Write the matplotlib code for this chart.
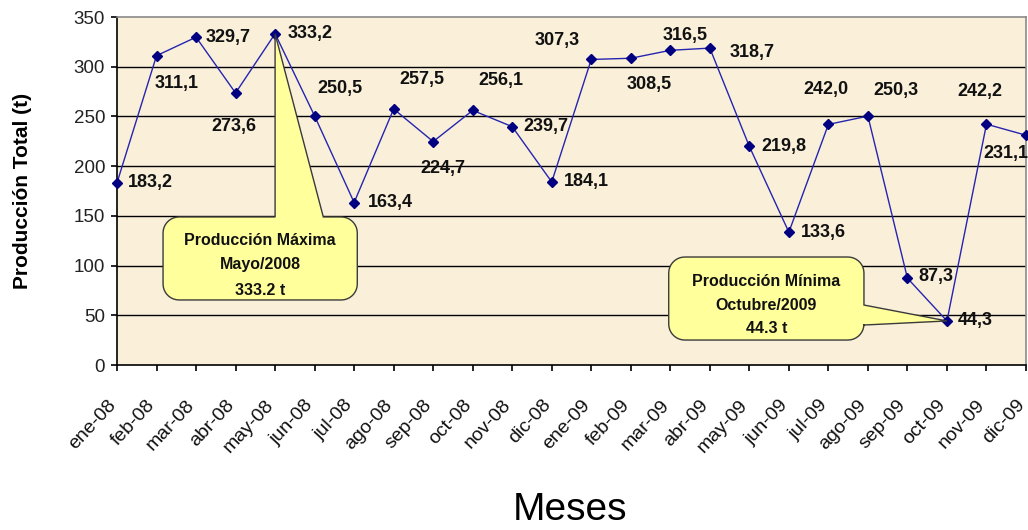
import numpy as np
import matplotlib
matplotlib.use("Agg")
import matplotlib.pyplot as plt
from matplotlib import font_manager
from matplotlib.path import Path
from matplotlib.patches import PathPatch
from matplotlib.transforms import ScaledTranslation

# ---- data -------------------------------------------------------------
months = ["ene-08", "feb-08", "mar-08", "abr-08", "may-08", "jun-08",
          "jul-08", "ago-08", "sep-08", "oct-08", "nov-08", "dic-08",
          "ene-09", "feb-09", "mar-09", "abr-09", "may-09", "jun-09",
          "jul-09", "ago-09", "sep-09", "oct-09", "nov-09", "dic-09"]
production = [183.2, 311.1, 329.7, 273.6, 333.2, 250.5, 163.4, 257.5,
              224.7, 256.1, 239.7, 184.1, 307.3, 308.5, 316.5, 318.7,
              219.8, 133.6, 242.0, 250.3, 87.3, 44.3, 242.2, 231.1]
y_ticks = [0, 50, 100, 150, 200, 250, 300, 350]

# label placement (pixel offsets from each point, horizontal alignment)
label_pos = [(11, 0, "left"), (20, -28, "center"), (10, 0, "left"),
             (-2, -34, "center"), (13, 0, "left"), (25, 27, "center"),
             (14, 0, "left"), (28, 29, "center"), (10, -27, "center"),
             (28, 30, "center"), (11, 0, "left"), (12, 0, "left"),
             (-34, 19, "center"), (18, -26, "center"), (15, 15, "center"),
             (20, -4, "left"), (12, 0, "left"), (12, 0, "left"),
             (-2, 35, "center"), (28, 26, "center"), (11, 2, "left"),
             (11, 0, "left"), (-7, 33, "center"), (-20, -18, "center")]

# ---- fonts ------------------------------------------------------------
def has_font(name):
    try:
        font_manager.findfont(font_manager.FontProperties(family=name),
                              fallback_to_default=False)
        return True
    except Exception:
        return False

base = "Liberation Sans" if has_font("Liberation Sans") else "DejaVu Sans"
narrow = "Liberation Sans Narrow" if has_font("Liberation Sans Narrow") else base
plt.rcParams["font.family"] = [base, "DejaVu Sans"]

# ---- figure -----------------------------------------------------------
W, H = 1028, 530
fig = plt.figure(figsize=(W / 100, H / 100), dpi=100)
fig.patch.set_facecolor("white")
ax = fig.add_axes([117 / W, 1 - 365 / H, (1026 - 117) / W, (365 - 17) / H])
ax.set_facecolor("#FAF0DA")

x = np.arange(len(months))
ax.set_xlim(0, len(months) - 1)
ax.set_ylim(0, 350)

for g in y_ticks[1:-1]:
    ax.axhline(g, color="black", lw=1.0, zorder=1)

ax.plot(x, production, color="#2525B0", lw=1.0, zorder=3, clip_on=False)
ax.plot(x, production, ls="none", marker="D", ms=5.5, color="#000080",
        zorder=4, clip_on=False)

# spines
for s in ("top", "right"):
    ax.spines[s].set_color("#8A8A8A")
    ax.spines[s].set_linewidth(1.2)
for s in ("left", "bottom"):
    ax.spines[s].set_color("black")
    ax.spines[s].set_linewidth(1.2)

ax.set_yticks(y_ticks)
ax.set_yticklabels([str(v) for v in y_ticks], fontsize=13.5, color="#222222")
ax.tick_params(axis="y", direction="out", length=4.5, width=1.2, pad=4)
ax.set_xticks(x)
ax.set_xticklabels(months, rotation=47, ha="right", va="center",
                   rotation_mode="anchor", fontsize=14, color="#111111")
ax.tick_params(axis="x", direction="out", length=4.5, width=1.2, pad=0)
off = ScaledTranslation(-4 / 100, -31 / 100, fig.dpi_scale_trans)
for lab in ax.get_xticklabels():
    lab.set_transform(lab.get_transform() + off)

ax.set_ylabel("Producción Total (t)", fontsize=15, fontweight="bold",
              labelpad=0)
ax.yaxis.set_label_coords(-0.0935, 0.5)
fig.text(570 / W, 1 - 510 / H, "Meses", fontsize=28, ha="center",
         va="center", family=[narrow, base])

# data labels
for xi, v, (dx, dy, ha) in zip(x, production, label_pos):
    ax.annotate(f"{v:.1f}".replace(".", ","), xy=(xi, v),
                xytext=(dx, dy), textcoords="offset pixels",
                ha=ha, va="center", fontsize=13, fontweight="bold",
                color="#111111", zorder=6, annotation_clip=False)

# ---- callouts ---------------------------------------------------------
px_x = (1026 - 117) / (len(months) - 1)   # pixels per category
px_y = (365 - 17) / 350.0                 # pixels per unit


def rounded_box(x0, x1, y0, y1, r=16, pointer=None):
    """Rounded rectangle in data coords with optional pointer.
    pointer: (edge, a, b, tip) where edge is 'top' or 'right'."""
    rx, ry = r / px_x, r / px_y
    t = np.linspace(0, np.pi / 2, 10)
    pts = []
    # bottom-right corner
    cx, cy = x1 - rx, y0 + ry
    pts += [(cx + rx * np.sin(a), cy - ry * np.cos(a)) for a in t]
    if pointer and pointer[0] == "right":
        _, a, b, tip = pointer
        pts += [(x1, a), tip, (x1, b)]
    # top-right corner
    cx, cy = x1 - rx, y1 - ry
    pts += [(cx + rx * np.cos(a), cy + ry * np.sin(a)) for a in t]
    if pointer and pointer[0] == "top":
        _, a, b, tip = pointer
        pts += [(b, y1), tip, (a, y1)]
    # top-left corner
    cx, cy = x0 + rx, y1 - ry
    pts += [(cx - rx * np.sin(a), cy + ry * np.cos(a)) for a in t]
    # bottom-left corner
    cx, cy = x0 + rx, y0 + ry
    pts += [(cx - rx * np.cos(a), cy - ry * np.sin(a)) for a in t]
    pts.append(pts[0])
    codes = [Path.MOVETO] + [Path.LINETO] * (len(pts) - 2) + [Path.CLOSEPOLY]
    return Path(pts, codes)


i_max = int(np.argmax(production))
i_min = int(np.argmin(production))

box_max = rounded_box(1.165, 6.08, 65.4, 148.9,
                      pointer=("top", 4.0, 5.22, (i_max, production[i_max])))
box_min = rounded_box(13.96, 18.9, 25.1, 108.6,
                      pointer=("right", 40.2, 60.3, (i_min, production[i_min])))
for p in (box_max, box_min):
    ax.add_patch(PathPatch(p, facecolor="#FFFF9C", edgecolor="#3A3A3A",
                           lw=1.0, zorder=5, clip_on=False))

cfont = dict(ha="center", va="center", fontsize=11.5, fontweight="bold",
             color="#111111", zorder=7, family=[narrow, base])
ax.text(3.62, 125.7, "Producción Máxima", **cfont)
ax.text(3.62, 100.6, "Mayo/2008", **cfont)
ax.text(3.62, 75.4, f"{production[i_max]:.1f} t", **cfont)
ax.text(16.43, 83.5, "Producción Mínima", **cfont)
ax.text(16.43, 60.3, "Octubre/2009", **cfont)
ax.text(16.43, 37.2, f"{production[i_min]:.1f} t", **cfont)

fig.savefig("out.png", dpi=100)
